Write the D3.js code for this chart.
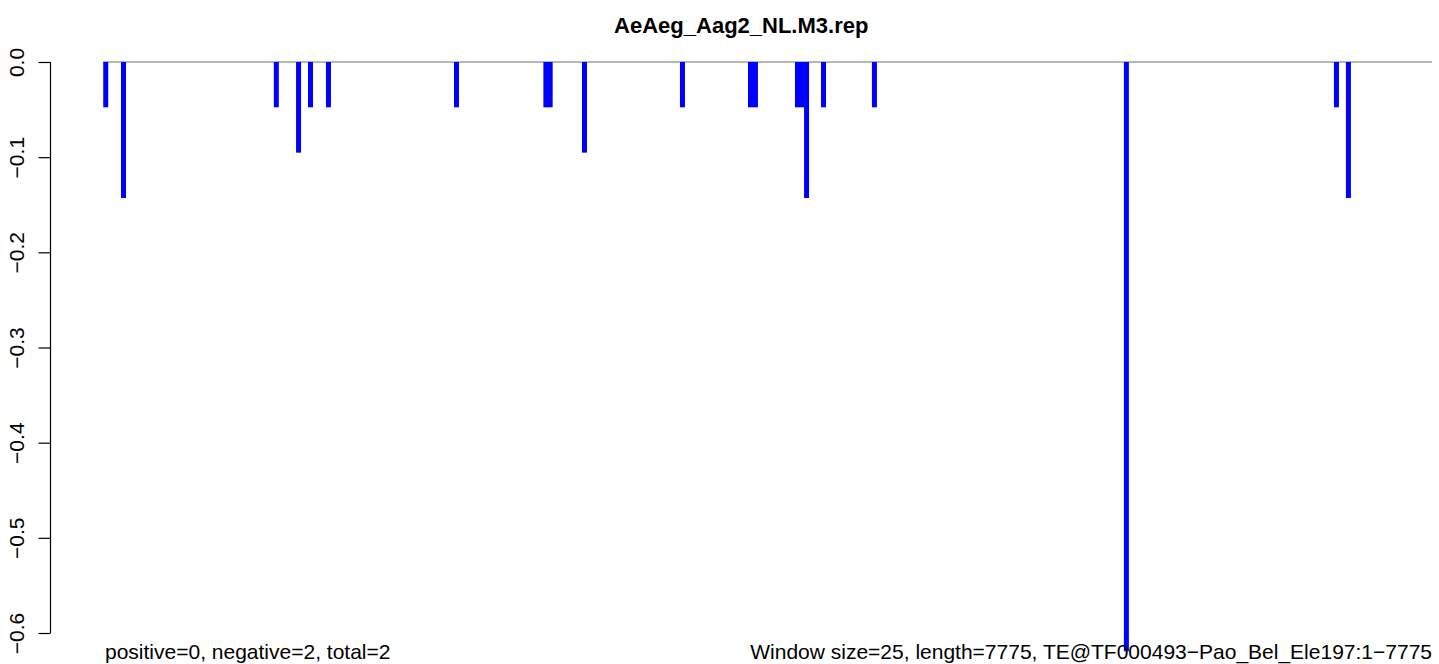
<!DOCTYPE html>
<html>
<head>
<meta charset="utf-8">
<script src="https://cdn.jsdelivr.net/npm/d3@7/dist/d3.min.js"></script>
<style>
  html, body { margin: 0; padding: 0; background: #fff; }
  svg { display: block; font-family: "Liberation Sans", Arial, Helvetica, sans-serif; }
</style>
</head>
<body>
<svg id="chart" width="1439" height="664"></svg>
<script>
// ---- data ----
const title = "AeAeg_Aag2_NL.M3.rep";
const seqLength = 7775;
const windowSize = 25;
// window positions (bp) and values
const positions = [16, 120, 1014, 1144, 1214, 1319, 2068, 2591, 2616, 2817, 3390, 3788, 3817, 4063, 4089, 4116, 4215, 4513, 5987, 7216, 7286];
const values = [-1/21, -3/21, -1/21, -2/21, -1/21, -1/21, -1/21, -1/21, -1/21, -2/21, -1/21, -1/21, -1/21, -1/21, -1/21, -3/21, -1/21, -1/21, -13/21, -1/21, -3/21];
const yTicks = [0, -0.1, -0.2, -0.3, -0.4, -0.5, -0.6];
const leftNote = "positive=0, negative=2, total=2";
const rightNote = "Window size=25, length=7775, TE@TF000493\u2212Pao_Bel_Ele197:1\u22127775";

// ---- layout ----
const svg = d3.select("#chart");
const plotLeft = 50.5, plotRight = 1432;
const x = d3.scaleLinear().domain([0, seqLength]).range([103, 1432]);
const y = d3.scaleLinear().domain([0, -0.6]).range([62, 633]);

// title
svg.append("text")
  .attr("x", (plotLeft + plotRight) / 2)
  .attr("y", 33)
  .attr("text-anchor", "middle")
  .attr("font-weight", "bold")
  .attr("font-size", 22)
  .text(title);

// zero line
svg.append("line")
  .attr("x1", x(0)).attr("x2", x(seqLength))
  .attr("y1", y(0)).attr("y2", y(0))
  .attr("stroke", "#707070").attr("stroke-width", 1.2);

// bars
svg.append("g").selectAll("line")
  .data(positions.map((p, i) => ({p, v: values[i]})))
  .join("line")
  .attr("x1", d => x(d.p)).attr("x2", d => x(d.p))
  .attr("y1", y(0)).attr("y2", d => y(d.v))
  .attr("stroke", "#0000ff")
  .attr("stroke-width", 5);

// y axis (R style)
const fmt = v => (v < 0 ? "\u2212" : "") + Math.abs(v).toFixed(1);
const yAxis = d3.axisLeft(y).tickValues(yTicks).tickSize(12).tickPadding(14).tickFormat(fmt);
const ga = svg.append("g").attr("transform", `translate(${plotLeft},0)`).call(yAxis);
ga.select(".domain").attr("stroke", "#000").attr("stroke-width", 1.2).attr("d", `M0,${y(0)}V${y(-0.6)}`);
ga.selectAll(".tick line").attr("stroke", "#000").attr("stroke-width", 1.2);
ga.selectAll(".tick text")
  .attr("font-size", 21)
  .attr("fill", "#000")
  .attr("font-family", "Liberation Sans, Arial, sans-serif")
  .attr("text-anchor", "middle")
  .attr("dy", 0)
  .attr("x", 0).attr("y", 0)
  .attr("transform", "translate(-27,0) rotate(-90)");

// bottom notes
svg.append("text")
  .attr("x", x(0) + 2).attr("y", 659)
  .attr("font-size", 21)
  .text(leftNote);
svg.append("text")
  .attr("x", plotRight).attr("y", 659)
  .attr("text-anchor", "end")
  .attr("font-size", 21)
  .text(rightNote);
</script>
</body>
</html>
